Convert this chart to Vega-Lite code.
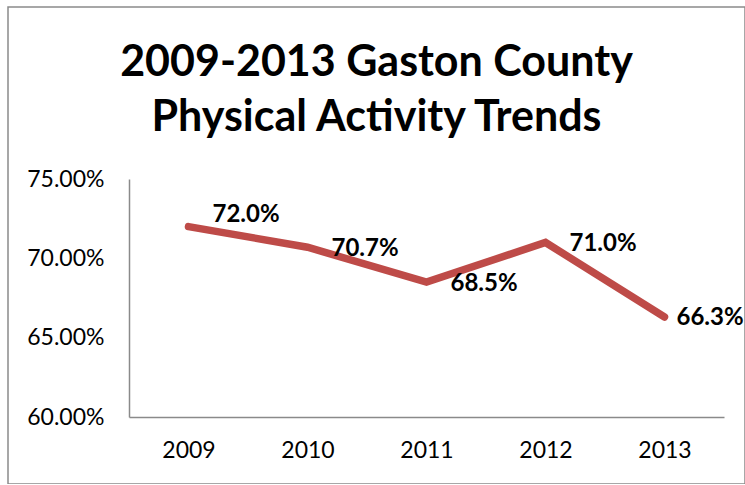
{
  "$schema": "https://vega.github.io/schema/vega-lite/v6.json",
  "width": 737,
  "height": 477,
  "autosize": {"type": "none"},
  "padding": {"left": 8, "top": 7, "right": 0, "bottom": 0},
  "background": "white",
  "title": {
    "text": ["2009-2013 Gaston County", "Physical Activity Trends"],
    "font": "Lato",
    "fontSize": 43,
    "fontWeight": "bold",
    "color": "black",
    "lineHeight": 55,
    "baseline": "top",
    "anchor": "middle",
    "frame": "group",
    "offset": -133
  },
  "config": {
    "view": {"stroke": "#8a8a8a", "strokeWidth": 1.5},
    "axis": {
      "labelFont": "Lato",
      "labelFontSize": 23,
      "labelColor": "black",
      "domainColor": "#8a8a8a",
      "domainWidth": 1.5,
      "ticks": false,
      "grid": false,
      "title": null
    }
  },
  "data": {
    "values": [
      {"year": "2009", "rate": 72.0, "label": "72.0%"},
      {"year": "2010", "rate": 70.7, "label": "70.7%"},
      {"year": "2011", "rate": 68.5, "label": "68.5%"},
      {"year": "2012", "rate": 71.0, "label": "71.0%"},
      {"year": "2013", "rate": 66.3, "label": "66.3%"}
    ]
  },
  "encoding": {
    "x": {
      "field": "year",
      "type": "ordinal",
      "scale": {"type": "point", "range": [121, 716], "padding": 0.5},
      "axis": {"labelAngle": 0, "offset": -67, "labelPadding": 22}
    },
    "y": {
      "field": "rate",
      "type": "quantitative",
      "scale": {"domain": [60, 75], "range": [410, 172], "nice": false, "zero": false},
      "axis": {"values": [60, 65, 70, 75], "offset": -121, "labelPadding": 25, "labelExpr": "format(datum.value, '.2f') + '%'"}
    }
  },
  "layer": [
    {
      "mark": {"type": "line", "color": "#BE4B48", "strokeWidth": 7.5, "strokeCap": "round", "strokeJoin": "miter"}
    },
    {
      "transform": [{"filter": "datum.year == '2009'"}],
      "mark": {"type": "text", "font": "Lato", "fontSize": 24, "fontWeight": "bold", "align": "left", "baseline": "middle", "dx": 24, "dy": -12, "color": "black"},
      "encoding": {"text": {"field": "label"}}
    },
    {
      "transform": [{"filter": "datum.year != '2009' && datum.year != '2013'"}],
      "mark": {"type": "text", "font": "Lato", "fontSize": 24, "fontWeight": "bold", "align": "left", "baseline": "middle", "dx": 24, "dy": 2, "color": "black"},
      "encoding": {"text": {"field": "label"}}
    },
    {
      "transform": [{"filter": "datum.year == '2013'"}],
      "mark": {"type": "text", "font": "Lato", "fontSize": 24, "fontWeight": "bold", "align": "left", "baseline": "middle", "dx": 12, "dy": 1, "color": "black"},
      "encoding": {"text": {"field": "label"}}
    }
  ]
}
